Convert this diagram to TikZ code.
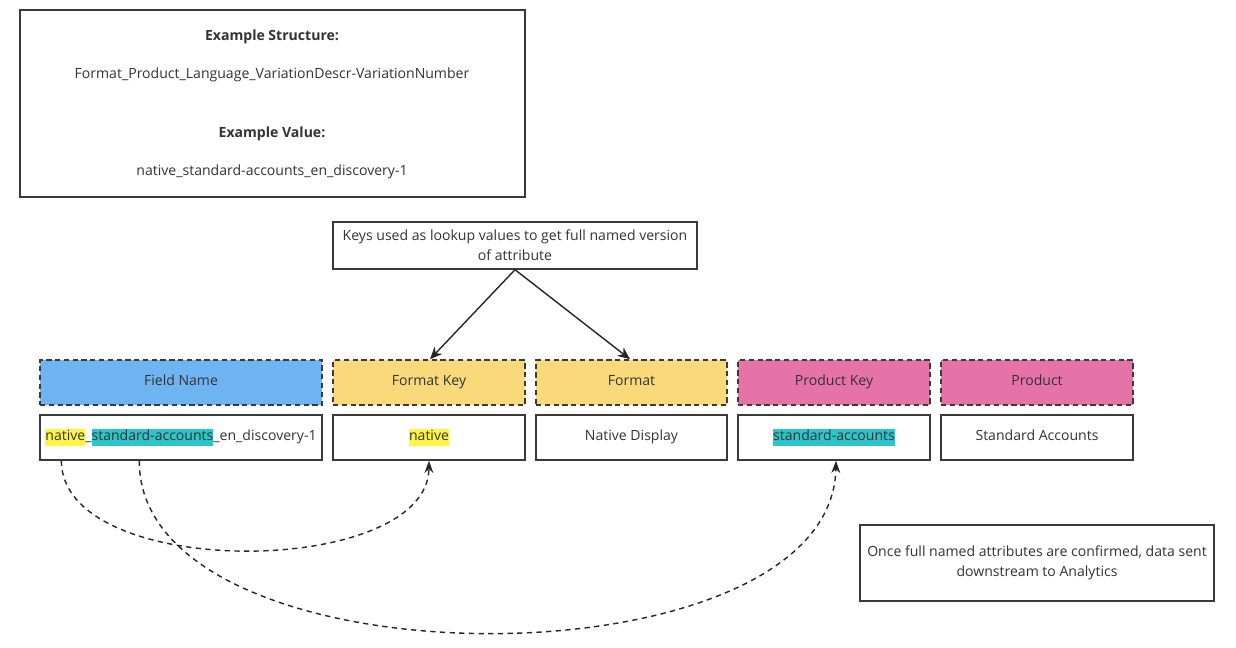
\documentclass[tikz,border=0pt]{standalone}
\usepackage{fontspec}
\setmainfont{Open Sans}
\usetikzlibrary{arrows.meta}
\definecolor{txt}{HTML}{333333}
\definecolor{edge}{HTML}{3A3A3A}
\definecolor{blueF}{HTML}{6FB4F2}
\definecolor{yellowF}{HTML}{F9D97A}
\definecolor{pinkF}{HTML}{E673A8}
\definecolor{hlY}{HTML}{FFF548}
\definecolor{hlT}{HTML}{2CC5C9}
\newcommand{\hlbox}[2]{{\setlength{\fboxsep}{0pt}\colorbox{#1}{\rule[-3.2pt]{0pt}{10.2pt}#2}}}
\tikzset{
  plainbox/.style={draw=edge, line width=0.8pt, fill=white, text=txt, inner sep=0pt, align=center},
  hdrbox/.style={draw=edge, line width=0.9pt, dash pattern=on 3pt off 2pt, text=txt, inner sep=0pt,
    minimum height=0.9cm, minimum width=3.84cm, text height=7pt, text depth=3.2pt},
  valbox/.style={plainbox, minimum height=0.9cm, minimum width=3.84cm, text height=7pt, text depth=3.2pt},
  lbl/.style={text=txt, inner sep=0pt, align=center},
  arr/.style={draw=black!85, line width=0.8pt, -{Stealth[length=7pt,width=6pt]}},
  darr/.style={draw=black!85, line width=0.8pt, dash pattern=on 3pt off 2.5pt, -{Stealth[length=7pt,width=5pt]}}
}
\begin{document}
\begin{tikzpicture}[x=0.02cm, y=-0.02cm, font=\fontsize{8}{11.5}\selectfont]
\useasboundingbox[fill=white] (0,0) rectangle (1236,648);

% top box
\node[plainbox, line width=1pt, minimum width=10.1cm, minimum height=3.74cm] (top) at (272.5,103.5) {};
\node[lbl, font=\fontsize{8}{10}\selectfont\bfseries] (t1) at (272,37) {Example Structure:};
\node[lbl] (t2) at (272,75) {Format\_Product\_Language\_VariationDescr-VariationNumber};
\node[lbl, font=\fontsize{8}{10}\selectfont\bfseries] (t3) at (272,134) {Example Value:};
\node[lbl] (t4) at (272,172) {native\_standard-accounts\_en\_discovery-1};

% keys box
\node[plainbox, minimum width=7.28cm, minimum height=0.94cm] (keys) at (515,245.5)
  {Keys used as lookup values to get full named version\\of attribute};

% headers
\node[hdrbox, fill=blueF, minimum width=5.64cm] (fname) at (181,382.5) {Field Name};
\node[hdrbox, fill=yellowF] (fkey) at (429,382.5) {Format Key};
\node[hdrbox, fill=yellowF, minimum width=3.82cm] (fmt) at (631.5,382.5) {Format};
\node[hdrbox, fill=pinkF] (pkey) at (834,382.5) {Product Key};
\node[hdrbox, fill=pinkF] (prod) at (1037,382.5) {Product};

% values
\node[valbox, minimum width=5.64cm] (fnameval) at (181,437.5)
  {\hlbox{hlY}{native}\_\hlbox{hlT}{standard-accounts}\_en\_discovery-1};
\node[valbox] (fkeyval) at (429,437.5) {\hlbox{hlY}{native}};
\node[valbox, minimum width=3.82cm] (fmtval) at (631.5,437.5) {Native Display};
\node[valbox] (pkeyval) at (834,437.5) {\hlbox{hlT}{standard-accounts}};
\node[valbox] (prodval) at (1037,437.5) {Standard Accounts};

% note box
\node[plainbox, minimum width=7.08cm, minimum height=1.52cm] (note) at (1037,563)
  {Once full named attributes are confirmed, data sent\\downstream to Analytics};

% arrows
\draw[arr] (keys.south) -- ([xshift=0.02cm]fkey.north);
\draw[arr] (keys.south) -- ([xshift=-0.03cm]fmt.north);

\draw[darr] ([xshift=0.44cm]fnameval.south west) .. controls (62,582) and (428,578) .. (fkeyval.south);
\draw[darr] ([xshift=2cm]fnameval.south west) .. controls (138,690) and (832,690) .. ([xshift=0.04cm]pkeyval.south);
\end{tikzpicture}
\end{document}
